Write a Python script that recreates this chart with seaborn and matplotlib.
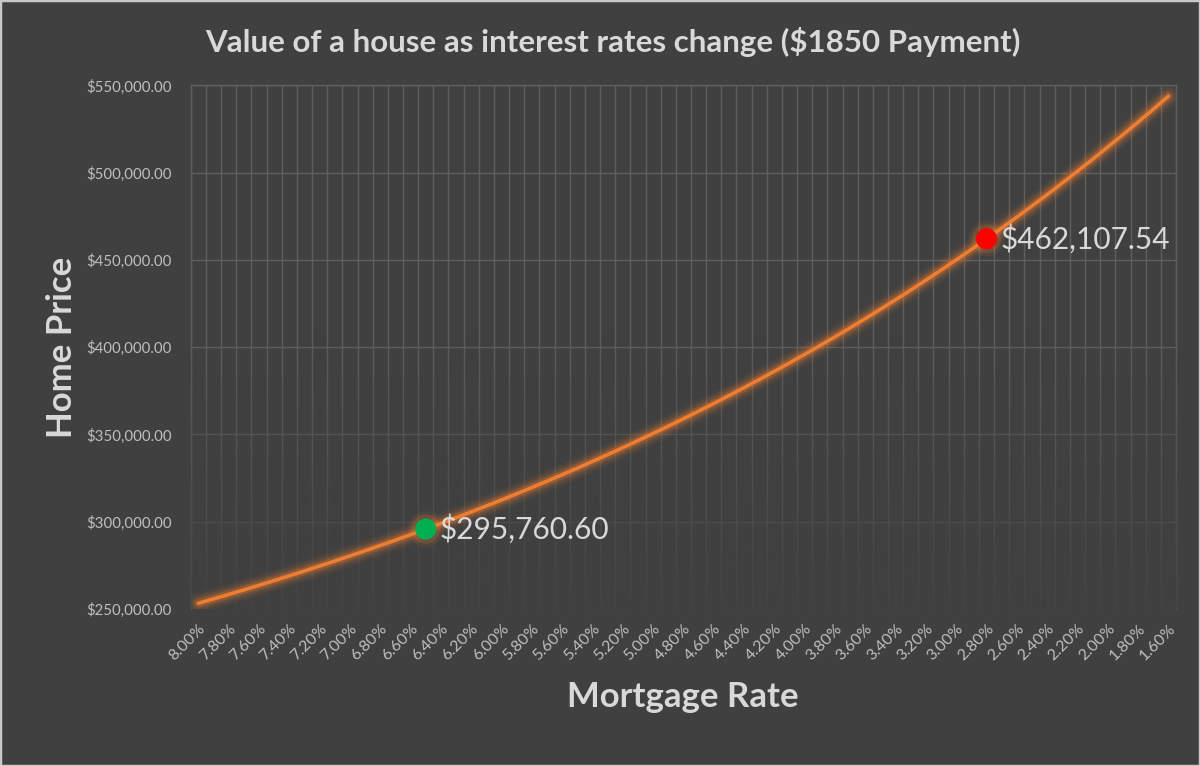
import numpy as np
import pandas as pd
import matplotlib
matplotlib.use("Agg")
import matplotlib.pyplot as plt
import seaborn as sns
from matplotlib.patches import Rectangle
from matplotlib.ticker import FuncFormatter

# ---------------- data ----------------
rates = [8.00, 7.90, 7.80, 7.70, 7.60, 7.50, 7.40, 7.30, 7.20, 7.10,
         7.00, 6.90, 6.80, 6.70, 6.60, 6.50, 6.40, 6.30, 6.20, 6.10,
         6.00, 5.90, 5.80, 5.70, 5.60, 5.50, 5.40, 5.30, 5.20, 5.10,
         5.00, 4.90, 4.80, 4.70, 4.60, 4.50, 4.40, 4.30, 4.20, 4.10,
         4.00, 3.90, 3.80, 3.70, 3.60, 3.50, 3.40, 3.30, 3.20, 3.10,
         3.00, 2.90, 2.80, 2.70, 2.60, 2.50, 2.40, 2.30, 2.20, 2.10,
         2.00, 1.90, 1.80, 1.70, 1.60]

prices = [253260, 255774, 258331, 260930, 263573, 266260, 268992, 271771, 274595, 277468,
          280390, 283361, 286383, 289455, 292581, 295761, 298995, 302281, 305623, 309025,
          312485, 316005, 319585, 323228, 326934, 330704, 334540, 338442, 342412, 346452,
          350563, 354746, 359003, 363334, 367743, 372229, 376796, 381443, 386173, 390990,
          395891, 400878, 405956, 411126, 416389, 421747, 427203, 432758, 438413, 444175,
          450040, 456012, 462108, 468268, 474546, 480942, 487456, 494088, 500838, 507706,
          514692, 521796, 529018, 536358, 543816]

highlight_rates = [6.50, 2.80]
highlight_prices = [295760.60, 462107.54]
highlight_colors = ["#00B050", "#FF0000"]
highlight_labels = ["$295,760.60", "$462,107.54"]

y_ticks = [250000, 300000, 350000, 400000, 450000, 500000, 550000]

title = "Value of a house as interest rates change ($1850 Payment)"
x_label = "Mortgage Rate"
y_label = "Home Price"

# ---------------- style ----------------
BG = "#404040"
GRID = "#5f5f5f"
ORANGE = "#ED7D31"
TXT = "#d9d9d9"
TICK = "#bfbfbf"

sns.set_theme(style="dark")
plt.rcParams["font.family"] = ["Lato", "DejaVu Sans"]

fig = plt.figure(figsize=(12, 7.66), dpi=100, facecolor=BG)
ax = fig.add_axes([0.159, 0.205, 0.821, 0.6835])
ax.set_facecolor(BG)

df = pd.DataFrame({"pos": np.arange(len(rates)), "rate": rates, "price": prices})

# glow under line
for lw, a in [(15, 0.05), (12, 0.08), (9, 0.13), (6, 0.27)]:
    sns.lineplot(data=df, x="pos", y="price", color=ORANGE, lw=lw, alpha=a,
                 ax=ax, zorder=4, solid_capstyle="round")
sns.lineplot(data=df, x="pos", y="price", color=ORANGE, lw=2.6, ax=ax, zorder=5,
             solid_capstyle="round")

# highlighted points
hl_pos = [int(np.argmin(np.abs(np.array(rates) - r))) for r in highlight_rates]
hdf = pd.DataFrame({"pos": hl_pos, "price": highlight_prices, "c": highlight_colors})
for s, a in [(650, 0.10), (440, 0.18)]:
    sns.scatterplot(data=hdf, x="pos", y="price", color=ORANGE, s=s, alpha=a,
                    edgecolor="none", ax=ax, zorder=6, legend=False)
for _, row in hdf.iterrows():
    sns.scatterplot(x=[row["pos"]], y=[row["price"]], color=row["c"], s=230,
                    edgecolor="none", ax=ax, zorder=7, legend=False)
for p, v, lab in zip(hl_pos, highlight_prices, highlight_labels):
    ax.annotate(lab, (p, v), xytext=(10, 0), textcoords="offset points",
                ha="left", va="center", fontsize=21.5, color=TXT, zorder=8)

# axes / grid
n = len(rates)
ax.set_xlim(-0.5, n - 0.5)
ax.set_ylim(y_ticks[0], y_ticks[-1])
ax.set_xticks(np.arange(0, n, 2))
ax.set_xticklabels([f"{r:.2f}%" for r in rates[::2]], rotation=45, ha="right",
                   rotation_mode="anchor")
ax.set_xticks(np.arange(-0.5, n, 1), minor=True)
ax.set_yticks(y_ticks)
ax.yaxis.set_major_formatter(FuncFormatter(lambda v, _: f"${v:,.2f}"))
ax.grid(False)
ax.grid(which="minor", axis="x", color=GRID, lw=1.0)
ax.grid(which="major", axis="y", color=GRID, lw=1.0)
ax.set_axisbelow(True)
ax.tick_params(axis="both", which="both", length=0)
ax.tick_params(axis="x", which="major", pad=9, labelsize=11.5, labelcolor=TICK)
ax.tick_params(axis="y", which="major", pad=14, labelsize=10.8, labelcolor=TICK)
for s in ["left", "right", "top"]:
    ax.spines[s].set_visible(True)
    ax.spines[s].set_color(GRID)
    ax.spines[s].set_linewidth(1.0)
ax.spines["bottom"].set_visible(False)
ax.set_xlabel("")
ax.set_ylabel("")

# gradient fade of the grid towards the bottom
f = np.linspace(0, 1, 256)
alpha = np.clip(0.9 * (1 - f / 0.55), 0, 1)
rgb = matplotlib.colors.to_rgb(BG)
grad = np.zeros((256, 1, 4))
grad[:, 0, 0], grad[:, 0, 1], grad[:, 0, 2] = rgb
grad[:, 0, 3] = alpha
ax.imshow(grad, extent=(-0.5, n - 0.5, y_ticks[0], y_ticks[-1]), origin="lower",
          aspect="auto", zorder=2.7, interpolation="bilinear")
ax.set_xlim(-0.5, n - 0.5)
ax.set_ylim(y_ticks[0], y_ticks[-1])

# texts
fig.text(0.511, 0.945, title, ha="center", va="center", fontsize=22.5,
         fontweight="bold", color=TXT)
fig.text(0.052, 0.547, y_label, ha="center", va="center", rotation=90,
         fontsize=25, fontweight="bold", color=TXT)
fig.text(0.569, 0.09, x_label, ha="center", va="center", fontsize=25,
         fontweight="bold", color=TXT)

fig.patches.append(Rectangle((0, 0), 1, 1, transform=fig.transFigure, fill=False,
                             edgecolor="#c8c8c8", lw=2.5))

fig.savefig("out.png", dpi=100, facecolor=BG)
